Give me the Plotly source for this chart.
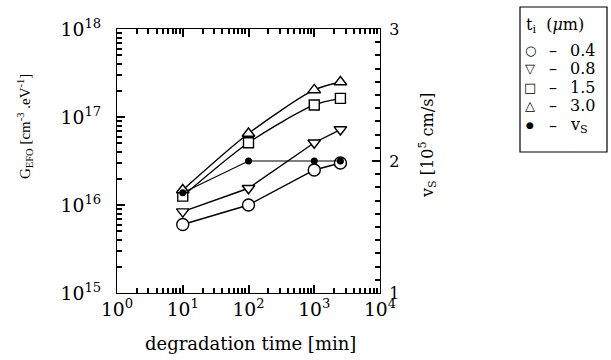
import plotly.graph_objects as go

# ---------------- data ----------------
time_min = [10, 100, 1000, 2500]
g_04 = [6.0e15, 1.0e16, 2.5e16, 3.0e16]      # circles, t_i = 0.4 um
g_08 = [8.4e15, 1.55e16, 5.1e16, 7.2e16]     # down triangles, 0.8 um
g_15 = [1.26e16, 5.1e16, 1.37e17, 1.63e17]   # squares, 1.5 um
g_30 = [1.48e16, 6.5e16, 2.03e17, 2.5e17]    # up triangles, 3.0 um
v_s = [1.76, 2.0, 2.0, 2.0]                  # filled circles, v_S [1e5 cm/s]

# tick label replacements for the log time axis (1 -> 10^0, 10 -> 10^1)
x_label_alias = {"1": "10<sup>0</sup>", "10": "10<sup>1</sup>"}

legend_title = "t<sub>i</sub>  (<i>μ</i>m)"
legend_rows = [("○", "0.4"), ("▽", "0.8"), ("□", "1.5"), ("△", "3.0"), ("●", "v<sub>S</sub>")]

FONT = "DejaVu Serif"
BLACK = "#000000"

fig = go.Figure()

def add_series(y, symbol, size, shape="linear", yaxis="y", lw=1.4):
    fig.add_trace(go.Scatter(
        x=time_min, y=y, mode="lines+markers", yaxis=yaxis,
        line=dict(color=BLACK, width=lw, shape=shape, smoothing=0.8),
        marker=dict(symbol=symbol, size=size, color="white",
                    line=dict(color=BLACK, width=1.4)),
        showlegend=False))

add_series(g_04, "circle", 12)
add_series(g_08, "triangle-down", 11)
add_series(g_15, "square", 10, shape="spline")
add_series(g_30, "triangle-up", 11, shape="spline")
fig.add_trace(go.Scatter(
    x=time_min, y=v_s, mode="lines+markers", yaxis="y2",
    line=dict(color=BLACK, width=1.1),
    marker=dict(symbol="circle", size=7, color=BLACK),
    showlegend=False))

tick_common = dict(ticks="inside", ticklen=8, tickwidth=1.5, tickcolor=BLACK,
                   showline=True, linecolor=BLACK, layer="above traces")
minor_common = dict(ticks="inside", ticklen=5, tickwidth=1.5, tickcolor=BLACK)

fig.update_layout(
    width=611, height=360,
    margin=dict(l=117, r=231, t=29, b=67),
    plot_bgcolor="white",
    font=dict(family=FONT, color=BLACK, size=14),
    showlegend=False,
    xaxis=dict(type="log", range=[0, 4], dtick=1, showgrid=False,
               exponentformat="power", labelalias=x_label_alias, mirror="ticks",
               tickfont=dict(size=15, family=FONT),
               minor=dict(dtick="D1", **minor_common),
               **tick_common),
    yaxis=dict(type="log", range=[15, 18], dtick=1, showgrid=False,
               exponentformat="power", ticksuffix="\u00a0\u00a0",
               tickfont=dict(size=15, family=FONT),
               minor=dict(dtick="D1", **minor_common),
               **tick_common),
    yaxis2=dict(overlaying="y", side="right", range=[1, 3], dtick=1, showgrid=False,
                tickprefix="\u00a0",
                tickfont=dict(size=16, family=FONT),
                minor=dict(dtick=0.1, **minor_common),
                **tick_common),
)

def px2paper(px, py):
    return (px - 117) / 263.0, (293 - py) / 264.0

annotations = []

def ann(px, py, text, size, family=FONT, xanchor="center", angle=0, weight="normal"):
    ax, ay = px2paper(px, py)
    annotations.append(dict(x=ax, y=ay, xref="paper", yref="paper", text=text,
                            xanchor=xanchor, yanchor="middle", textangle=angle,
                            showarrow=False,
                            font=dict(size=size, family=family, color=BLACK, weight=weight)))

# axis titles
ann(250, 343, "degradation time [min]", 18)
ann(25, 127, "G<sub>EFO</sub> [cm<sup>-3</sup> .eV<sup>-1</sup>]", 15,
    family="Liberation Serif", angle=-90)
ann(427, 145, "v<sub>S</sub> [10<sup>5</sup> cm/s]", 16, angle=-90)

# legend box
x0, y0 = px2paper(520, 7)
x1, y1 = px2paper(607, 152)
fig.add_shape(type="rect", xref="paper", yref="paper", x0=x0, y0=y1, x1=x1, y1=y0,
              line=dict(color=BLACK, width=1.2))
ann(524, 26, legend_title, 16, xanchor="left")
row_y = [50, 68, 87, 106, 125]
for (sym, val), py in zip(legend_rows, row_y):
    ann(530, py, sym, 13 if sym != "●" else 9, family="DejaVu Sans", weight="bold")
    ann(553, py, "–", 16)
    ann(568, py, val, 16, xanchor="left")

fig.update_layout(annotations=annotations)
fig.write_html("out.html")
